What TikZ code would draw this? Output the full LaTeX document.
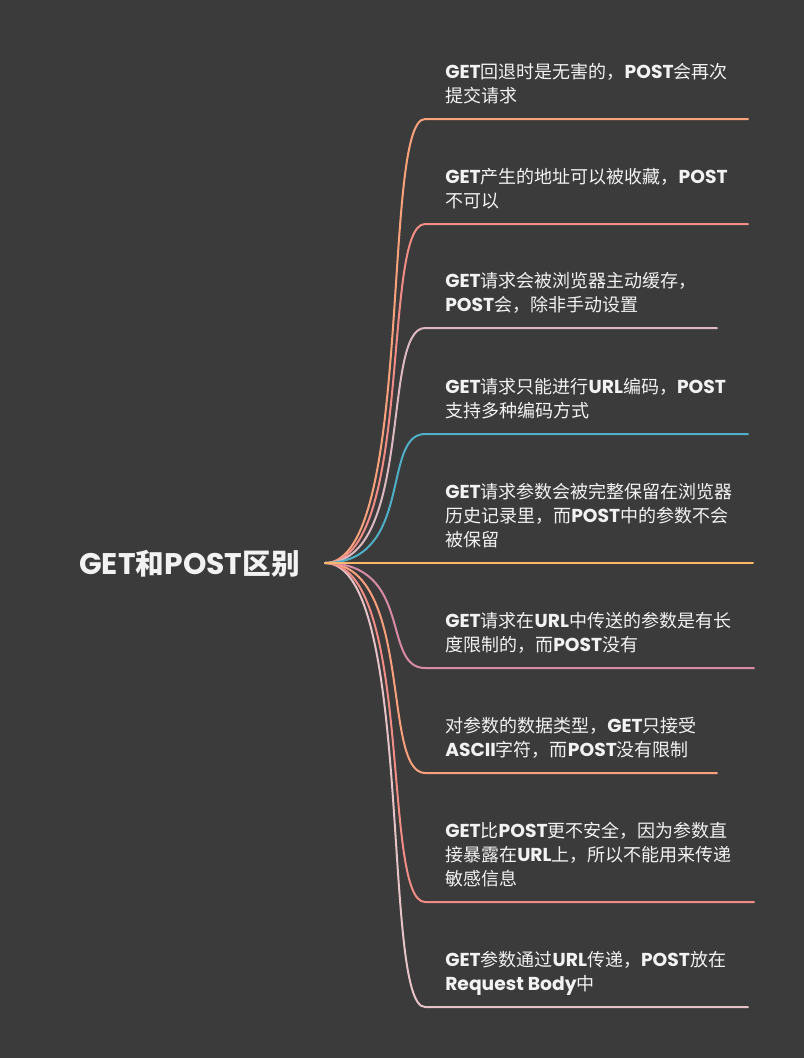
\documentclass[tikz,border=0pt]{standalone}
\usepackage{fontspec}
\setmainfont{Noto Sans CJK SC}
\newfontfamily\lat{Poppins}[Scale=1.04]
\newcommand\en[1]{{\lat\bfseries #1}}
\definecolor{bg}{HTML}{3B3B3B}
\definecolor{tx}{HTML}{F2F2F2}
\definecolor{cA}{HTML}{F9A27B}
\definecolor{cB}{HTML}{F28C86}
\definecolor{cC}{HTML}{DDB9C1}
\definecolor{cD}{HTML}{4FAFC6}
\definecolor{cE}{HTML}{FDB56A}
\definecolor{cF}{HTML}{D88BA6}
\definecolor{cG}{HTML}{FBA07C}
\definecolor{cH}{HTML}{F28C86}
\definecolor{cI}{HTML}{E6C3C8}
\tikzset{
  leaf/.style={anchor=south west, inner sep=0pt, text depth=0pt, align=left, text=tx,
    font=\fontsize{13.5pt}{18pt}\selectfont},
  branch/.style={line width=1.5pt, line cap=round},
}
\begin{document}
\begin{tikzpicture}[x=0.75pt,y=-0.75pt]
\fill[bg] (0,0) rectangle (804,1058);
\useasboundingbox (0,0) rectangle (804,1058);
\node[anchor=base west, inner sep=0pt, text=tx, font=\fontsize{21.5pt}{26pt}\selectfont\bfseries] (root) at (79,574) {\en{GET}和\en{POST}区别};
\coordinate (r) at (325,563);
% leaf texts
\node[leaf] (t1) at (445,103) {\en{GET}回退时是无害的，\en{POST}会再次\\提交请求};
\node[leaf] (t2) at (445,208) {\en{GET}产生的地址可以被收藏，\en{POST}\\不可以};
\node[leaf] (t3) at (445,312) {\en{GET}请求会被浏览器主动缓存，\\\en{POST}会，除非手动设置};
\node[leaf] (t4) at (445,418) {\en{GET}请求只能进行\en{URL}编码，\en{POST}\\支持多种编码方式};
\node[leaf] (t5) at (445,547) {\en{GET}请求参数会被完整保留在浏览器\\历史记录里，而\en{POST}中的参数不会\\被保留};
\node[leaf] (t6) at (445,652) {\en{GET}请求在\en{URL}中传送的参数是有长\\度限制的，而\en{POST}没有};
\node[leaf] (t7) at (445,757) {对参数的数据类型，\en{GET}只接受\\\en{ASCII}字符，而\en{POST}没有限制};
\node[leaf] (t8) at (445,886) {\en{GET}比\en{POST}更不安全，因为参数直\\接暴露在\en{URL}上，所以不能用来传递\\敏感信息};
\node[leaf] (t9) at (445,991) {\en{GET}参数通过\en{URL}传递，\en{POST}放在\\\en{Request Body}中};
% branch corners and ends
\foreach \i/\y/\xe in {1/119/748,2/224/748,3/328/717,4/434/748,5/563/753,6/668/754,7/773/717,8/902/754,9/1007/748}{
  \coordinate (k\i) at (425,\y);
  \coordinate (e\i) at (\xe,\y);
}
\foreach \i/\c in {9/cI,8/cH,7/cG,6/cF,1/cA,2/cB,3/cC,4/cD}{
  \draw[branch,\c] (r) .. controls ([xshift=67]r) and ([xshift=-33]k\i) .. (k\i) -- (e\i);
}
\draw[branch,cE] (r) -- (e5);
\end{tikzpicture}
\end{document}
